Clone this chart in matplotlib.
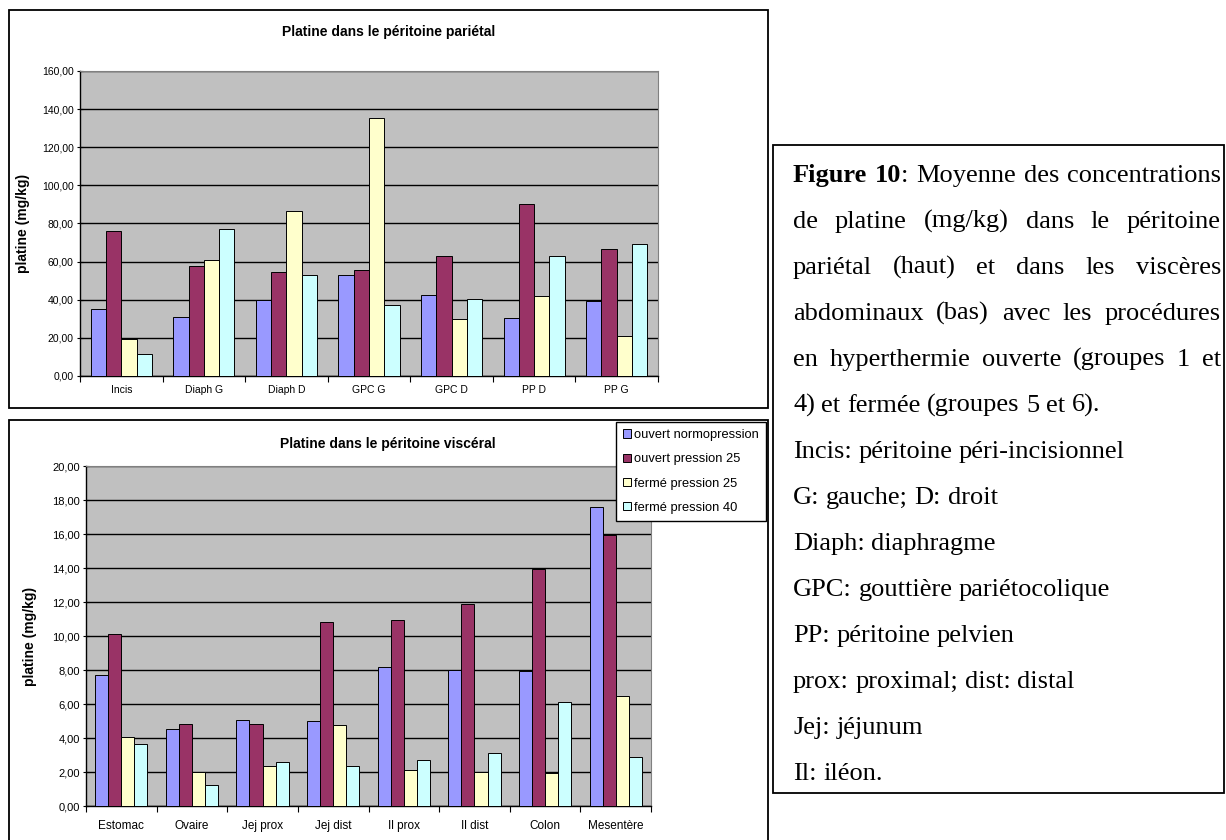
import numpy as np
import matplotlib
matplotlib.use('Agg')
import matplotlib.pyplot as plt
from matplotlib.patches import Rectangle
from matplotlib.ticker import FuncFormatter, MultipleLocator

W, H = 1226, 840

series = ['ouvert normopression', 'ouvert pression 25', 'fermé pression 25', 'fermé pression 40']
colors = ['#9999FF', '#993366', '#FFFFCC', '#CCFFFF']

# haut : péritoine pariétal
par_sites = ['Incis', 'Diaph G', 'Diaph D', 'GPC G', 'GPC D', 'PP D', 'PP G']
par_ouv_normo = [34.9, 30.9, 39.7, 52.8, 42.6, 30.6, 39.6]
par_ouv_p25 = [76.0, 57.6, 54.7, 55.5, 62.9, 90.3, 66.4]
par_fer_p25 = [19.4, 61.0, 86.6, 135.2, 29.9, 42.1, 20.8]
par_fer_p40 = [11.5, 77.2, 53.1, 37.2, 40.2, 63.2, 69.5]

# bas : péritoine viscéral
visc_sites = ['Estomac', 'Ovaire', 'Jej prox', 'Jej dist', 'Il prox', 'Il dist', 'Colon', 'Mesentère']
visc_ouv_normo = [7.71, 4.55, 5.08, 4.98, 8.18, 8.02, 7.94, 17.59]
visc_ouv_p25 = [10.10, 4.84, 4.84, 10.80, 10.94, 11.86, 13.94, 15.92]
visc_fer_p25 = [4.08, 1.98, 2.35, 4.76, 2.14, 1.98, 1.92, 6.49]
visc_fer_p40 = [3.63, 1.22, 2.59, 2.35, 2.73, 3.12, 6.12, 2.88]

caption = [
    [[('Figure', 'bold')], [('10', 'bold'), (':', 'normal')], 'Moyenne', 'des', 'concentrations'],
    'de platine (mg/kg) dans le péritoine',
    'pariétal (haut) et dans les viscères',
    'abdominaux (bas) avec les procédures',
    'en hyperthermie ouverte (groupes 1 et',
    '4) et fermée (groupes 5 et 6).',
    'Incis: péritoine péri-incisionnel',
    'G: gauche; D: droit',
    'Diaph: diaphragme',
    'GPC: gouttière pariétocolique',
    'PP: péritoine pelvien',
    'prox: proximal; dist: distal',
    'Jej: jéjunum',
    'Il: iléon.',
]
n_justified = 5

plt.rcParams['font.family'] = ['Liberation Sans', 'DejaVu Sans']

fig = plt.figure(figsize=(W / 100, H / 100), dpi=100)


def fx(px):
    return px / W


def fy(py):
    return 1 - py / H


def comma_fmt(v, pos):
    return ('%.2f' % v).replace('.', ',')


def bar_chart(rect, sites, data, ymax, ystep, tick_fs, cat_fs, cat_pad):
    l, t, r, b = rect
    ax = fig.add_axes([fx(l), fy(b), fx(r - l), (b - t) / H])
    ax.set_facecolor('#C0C0C0')
    x = np.arange(len(sites))
    w = 0.185
    for i, vals in enumerate(data):
        ax.bar(x + (i - 1.5) * w, vals, w, color=colors[i], edgecolor='black',
               linewidth=0.7, zorder=3, label=series[i])
    ax.set_xlim(-0.5, len(sites) - 0.5)
    ax.set_ylim(0, ymax)
    ax.yaxis.set_major_locator(MultipleLocator(ystep))
    ax.yaxis.set_major_formatter(FuncFormatter(comma_fmt))
    ax.grid(axis='y', color='black', linewidth=1.0, zorder=1)
    ax.set_axisbelow(True)
    ax.set_xticks(x)
    ax.set_xticklabels(sites, fontsize=cat_fs)
    ax.set_xticks(np.arange(len(sites) + 1) - 0.5, minor=True)
    ax.tick_params(axis='x', which='major', length=0, pad=cat_pad)
    ax.tick_params(axis='x', which='minor', length=4, direction='out', width=0.8)
    ax.tick_params(axis='y', labelsize=tick_fs, length=5, direction='inout', width=0.8, pad=2)
    for s in ('top', 'right'):
        ax.spines[s].set_color('#808080')
    for s in ('left', 'bottom'):
        ax.spines[s].set_color('black')
        ax.spines[s].set_linewidth(1.0)
    return ax


# cadres des graphiques
fig.add_artist(Rectangle((fx(9), fy(408)), fx(759), 398 / H, transform=fig.transFigure,
                         fill=False, edgecolor='black', linewidth=1.3))
fig.add_artist(Rectangle((fx(9), fy(850)), fx(759), 430 / H, transform=fig.transFigure,
                         fill=False, edgecolor='black', linewidth=1.3))

ax1 = bar_chart((80, 71, 658, 376), par_sites,
                [par_ouv_normo, par_ouv_p25, par_fer_p25, par_fer_p40],
                160, 20, 7.5, 7.5, 6.5)
ax1.set_ylabel('platine (mg/kg)', fontsize=10, fontweight='bold')
ax1.yaxis.set_label_coords((30 - 80) / 578, 0.5)
fig.text(fx(389), fy(32), 'Platine dans le péritoine pariétal', fontsize=10,
         fontweight='bold', ha='center', va='center')

ax2 = bar_chart((86, 466, 651, 806), visc_sites,
                [visc_ouv_normo, visc_ouv_p25, visc_fer_p25, visc_fer_p40],
                20, 2, 8, 8.5, 10)
ax2.set_ylabel('platine (mg/kg)', fontsize=10, fontweight='bold')
ax2.yaxis.set_label_coords((37 - 86) / 565, 0.5)
fig.text(fx(388), fy(444), 'Platine dans le péritoine viscéral', fontsize=10,
         fontweight='bold', ha='center', va='center')

h, lab = ax2.get_legend_handles_labels()
leg = fig.legend(h, lab, loc='upper right', bbox_to_anchor=(fx(766), fy(422)),
                 bbox_transform=fig.transFigure, fontsize=9.3, frameon=True,
                 fancybox=False, edgecolor='black', framealpha=1,
                 handlelength=0.6, handleheight=0.6, handletextpad=0.25,
                 labelspacing=0.95, borderpad=0.55, borderaxespad=0)
leg.get_frame().set_linewidth(1.0)

# cadre de la légende de la figure
fig.add_artist(Rectangle((fx(773), fy(793)), fx(451), 648 / H, transform=fig.transFigure,
                         fill=False, edgecolor='black', linewidth=1.3))

renderer = fig.canvas.get_renderer()
serif = ['Liberation Serif', 'DejaVu Serif']
cap_fs = 19
left_px, right_px = 793, 1221
line0, step = 182, 46


def make_word(w):
    if isinstance(w, str):
        return [(w, 'normal')]
    return w


def seg_width(s, weight):
    t = fig.text(0, 0, s, fontsize=cap_fs, family=serif, fontweight=weight)
    wd = t.get_window_extent(renderer).width
    t.remove()
    return wd


space_w = seg_width('a a', 'normal') - seg_width('aa', 'normal')

for k, line in enumerate(caption):
    words = line if isinstance(line, list) else line.split(' ')
    words = [make_word(w) for w in words]
    widths = [[seg_width(s, wt) for s, wt in w] for w in words]
    total = sum(sum(ws) for ws in widths)
    if k < n_justified and len(words) > 1:
        gap = (right_px - left_px - total) / (len(words) - 1)
    else:
        gap = space_w
    y = line0 + k * step
    xp = left_px
    for w, ws in zip(words, widths):
        for (s, wt), wd in zip(w, ws):
            fig.text(fx(xp), fy(y), s, fontsize=cap_fs, family=serif, fontweight=wt,
                     ha='left', va='baseline')
            xp += wd
        xp += gap

fig.savefig('out.png', dpi=100)
